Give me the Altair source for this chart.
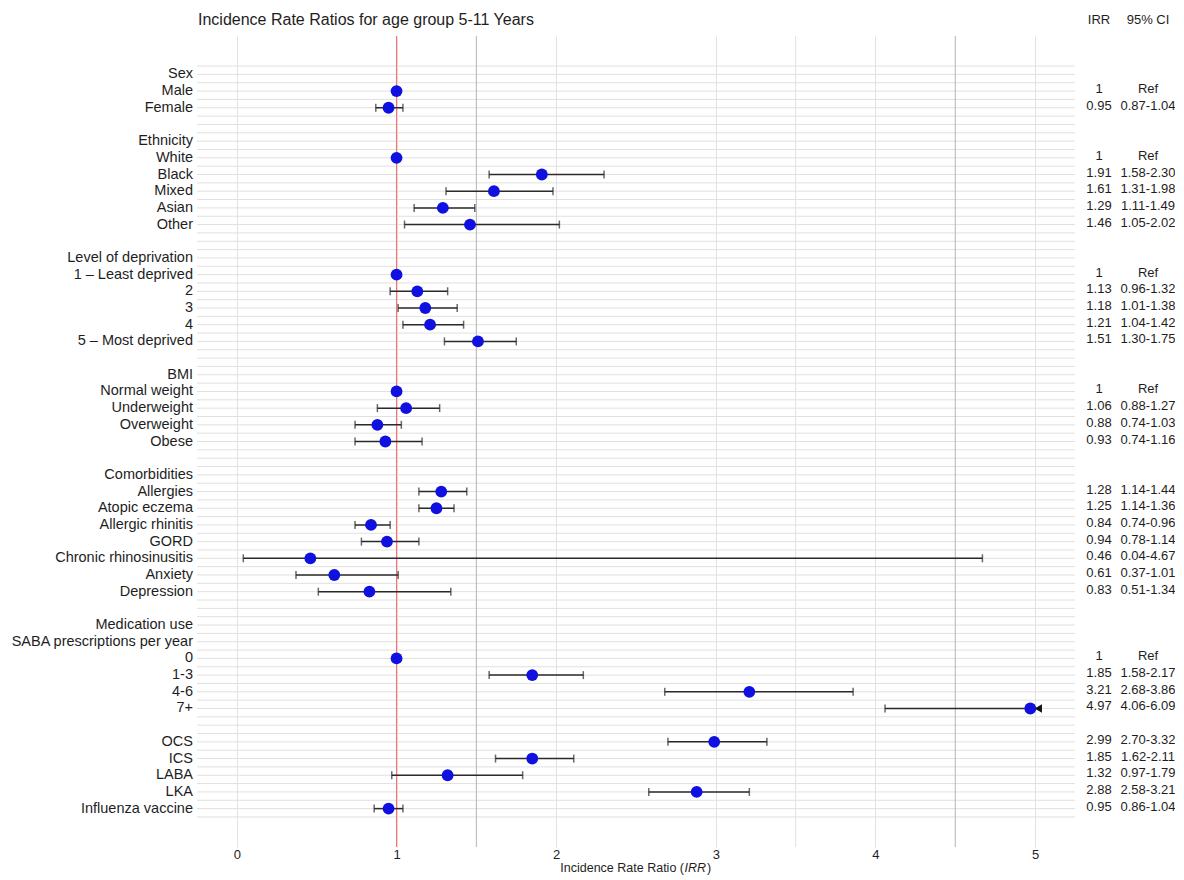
import altair as alt
import pandas as pd
import numpy as np

# ---------------- data ----------------
labels = ["Sex", "Male", "Female", "",
          "Ethnicity", "White", "Black", "Mixed", "Asian", "Other", "",
          "Level of deprivation", "1 \u2013 Least deprived", "2", "3", "4", "5 \u2013 Most deprived", "",
          "BMI", "Normal weight", "Underweight", "Overweight", "Obese", "",
          "Comorbidities", "Allergies", "Atopic eczema", "Allergic rhinitis", "GORD",
          "Chronic rhinosinusitis", "Anxiety", "Depression", "",
          "Medication use", "SABA prescriptions per year", "0", "1-3", "4-6", "7+", "",
          "OCS", "ICS", "LABA", "LKA", "Influenza vaccine"]

irr = [None, 1, 0.95, None,
       None, 1, 1.91, 1.61, 1.29, 1.46, None,
       None, 1, 1.13, 1.18, 1.21, 1.51, None,
       None, 1, 1.06, 0.88, 0.93, None,
       None, 1.28, 1.25, 0.84, 0.94, 0.46, 0.61, 0.83, None,
       None, None, 1, 1.85, 3.21, 4.97, None,
       2.99, 1.85, 1.32, 2.88, 0.95]

ci_low = [None, None, 0.87, None,
          None, None, 1.58, 1.31, 1.11, 1.05, None,
          None, None, 0.96, 1.01, 1.04, 1.30, None,
          None, None, 0.88, 0.74, 0.74, None,
          None, 1.14, 1.14, 0.74, 0.78, 0.04, 0.37, 0.51, None,
          None, None, None, 1.58, 2.68, 4.06, None,
          2.70, 1.62, 0.97, 2.58, 0.86]

ci_high = [None, None, 1.04, None,
           None, None, 2.30, 1.98, 1.49, 2.02, None,
           None, None, 1.32, 1.38, 1.42, 1.75, None,
           None, None, 1.27, 1.03, 1.16, None,
           None, 1.44, 1.36, 0.96, 1.14, 4.67, 1.01, 1.34, None,
           None, None, None, 2.17, 3.86, 6.09, None,
           3.32, 2.11, 1.79, 3.21, 1.04]

irr_text = ["", "1", "0.95", "",
            "", "1", "1.91", "1.61", "1.29", "1.46", "",
            "", "1", "1.13", "1.18", "1.21", "1.51", "",
            "", "1", "1.06", "0.88", "0.93", "",
            "", "1.28", "1.25", "0.84", "0.94", "0.46", "0.61", "0.83", "",
            "", "", "1", "1.85", "3.21", "4.97", "",
            "2.99", "1.85", "1.32", "2.88", "0.95"]

ci_text = ["", "Ref", "0.87-1.04", "",
           "", "Ref", "1.58-2.30", "1.31-1.98", "1.11-1.49", "1.05-2.02", "",
           "", "Ref", "0.96-1.32", "1.01-1.38", "1.04-1.42", "1.30-1.75", "",
           "", "Ref", "0.88-1.27", "0.74-1.03", "0.74-1.16", "",
           "", "1.14-1.44", "1.14-1.36", "0.74-0.96", "0.78-1.14", "0.04-4.67", "0.37-1.01", "0.51-1.34", "",
           "", "", "Ref", "1.58-2.17", "2.68-3.86", "4.06-6.09", "",
           "2.70-3.32", "1.62-2.11", "0.97-1.79", "2.58-3.21", "0.86-1.04"]

x_ticks = [0, 1, 2, 3, 4, 5]
null_value = [1]
guide_x_dark = [1.5, 4.5]
guide_x_light = [3.5]
axis_limit = 5.02

df = pd.DataFrame({
    "row": list(range(len(labels))),
    "label": labels,
    "irr": irr,
    "lo": ci_low,
    "hi": ci_high,
    "irr_txt": irr_text,
    "ci_txt": ci_text,
})

FONT = "Liberation Sans"
TXT = "#1e1e1e"
W, H = 878, 811
n_rows = len(labels)
row_lines = pd.DataFrame({"gy": np.arange(-0.5, n_rows - 0.49, 0.5)})

xs = alt.Scale(domain=[-0.25, 5.25], nice=False, zero=False)
ys = alt.Scale(domain=[-2.3, n_rows - 1 + 2.3], reverse=True, nice=False, zero=False)

base = alt.Chart(df)

# grid carrier layer (x axis)
grid = base.mark_point(opacity=0).encode(
    x=alt.X("irr:Q", scale=xs,
            axis=alt.Axis(values=x_ticks, grid=True, gridColor="#e2e2e2", gridWidth=1,
                          ticks=False, domain=False, title=None, labelFontSize=13,
                          labelColor=TXT, labelFont=FONT, labelPadding=1, format="d")),
    y=alt.Y("row:Q", scale=ys, axis=None),
)

hgrid = alt.Chart(row_lines).mark_rule(color="#e0e0e0", strokeWidth=1).encode(
    y=alt.Y("gy:Q", scale=ys), x=alt.value(0), x2=alt.value(W))

guides_light = alt.Chart(pd.DataFrame({"gx": guide_x_light})).mark_rule(color="#e2e2e2", strokeWidth=1).encode(
    x=alt.X("gx:Q", scale=xs), y=alt.value(0), y2=alt.value(H))

guides = alt.Chart(pd.DataFrame({"gx": guide_x_dark})).mark_rule(color="#b4b4b4", strokeWidth=1).encode(
    x=alt.X("gx:Q", scale=xs), y=alt.value(0), y2=alt.value(H))

null_line = alt.Chart(pd.DataFrame({"nx": null_value})).mark_rule(color="#ff6b6b", strokeWidth=1).encode(
    x=alt.X("nx:Q", scale=xs), y=alt.value(0), y2=alt.value(H))

ci = base.transform_filter("isValid(datum.lo)").transform_calculate(
    hi_draw=f"min(datum.hi, {axis_limit})"
).mark_rule(color="#2a2a2a", strokeWidth=1.5).encode(
    x=alt.X("lo:Q", scale=xs), x2="hi_draw:Q", y=alt.Y("row:Q", scale=ys))

cap_lo = base.transform_filter("isValid(datum.lo)").mark_tick(
    orient="vertical", size=8, thickness=1.5, color="#2a2a2a").encode(
    x=alt.X("lo:Q", scale=xs), y=alt.Y("row:Q", scale=ys))

cap_hi = base.transform_filter(f"isValid(datum.hi) && datum.hi <= {axis_limit}").mark_tick(
    orient="vertical", size=8, thickness=1.5, color="#2a2a2a").encode(
    x=alt.X("hi:Q", scale=xs), y=alt.Y("row:Q", scale=ys))

arrow = base.transform_filter(f"isValid(datum.hi) && datum.hi > {axis_limit}").transform_calculate(
    ax=f"{axis_limit}").mark_point(shape="triangle-left", filled=True, size=70, color="#111111", opacity=1).encode(
    x=alt.X("ax:Q", scale=xs), y=alt.Y("row:Q", scale=ys))

points = base.transform_filter("isValid(datum.irr)").mark_circle(size=140, color="#1010e0", opacity=1).encode(
    x=alt.X("irr:Q", scale=xs), y=alt.Y("row:Q", scale=ys))

row_labels = base.mark_text(align="right", baseline="middle", fontSize=14.5, font=FONT, color=TXT).encode(
    x=alt.value(-4), y=alt.Y("row:Q", scale=ys), text="label:N")

TAB_FS = 13
IRR_X, CI_X = 902, 951
tab_irr = base.mark_text(align="center", baseline="middle", fontSize=TAB_FS, font=FONT, color=TXT, dy=-2).encode(
    x=alt.value(IRR_X), y=alt.Y("row:Q", scale=ys), text="irr_txt:N")

tab_ci = base.mark_text(align="center", baseline="middle", fontSize=TAB_FS, font=FONT, color=TXT, dy=-2).encode(
    x=alt.value(CI_X), y=alt.Y("row:Q", scale=ys), text="ci_txt:N")

one = pd.DataFrame({"k": [0]})
hdr_irr = alt.Chart(one).mark_text(text="IRR", align="center", baseline="middle", fontSize=TAB_FS,
                                   font=FONT, color=TXT).encode(x=alt.value(IRR_X), y=alt.value(-16))
hdr_ci = alt.Chart(one).mark_text(text="95% CI", align="center", baseline="middle", fontSize=TAB_FS,
                                  font=FONT, color=TXT).encode(x=alt.value(CI_X), y=alt.value(-16))
title = alt.Chart(one).mark_text(text="Incidence Rate Ratios for age group 5-11 Years", align="left",
                                 baseline="middle", fontSize=16, font=FONT, color=TXT).encode(
    x=alt.value(1), y=alt.value(-16))

xt_c = 487
XT_Y = H + 21
XT_FS = 12.5
xt1 = alt.Chart(one).mark_text(text="Incidence Rate Ratio (", align="right", baseline="middle",
                               fontSize=XT_FS, font=FONT, color=TXT).encode(x=alt.value(xt_c), y=alt.value(XT_Y))
xt2 = alt.Chart(one).mark_text(text="IRR", align="left", baseline="middle", fontSize=XT_FS, fontStyle="italic",
                               font=FONT, color=TXT).encode(x=alt.value(xt_c + 0.5), y=alt.value(XT_Y))
xt3 = alt.Chart(one).mark_text(text=")", align="left", baseline="middle", fontSize=XT_FS,
                               font=FONT, color=TXT).encode(x=alt.value(xt_c + 23), y=alt.value(XT_Y))

chart = alt.layer(
    grid, hgrid, guides_light, guides, null_line, ci, cap_lo, cap_hi, arrow, points,
    row_labels, tab_irr, tab_ci, hdr_irr, hdr_ci, title, xt1, xt2, xt3
).properties(
    width=W, height=H,
    padding={"left": 189, "top": 28, "right": 100, "bottom": 30},
    autosize=alt.AutoSizeParams(type="none"),
).configure(background="white").configure_view(stroke=None, strokeWidth=0)

chart.save("out.html", embed_options={"renderer": "svg", "actions": False})
